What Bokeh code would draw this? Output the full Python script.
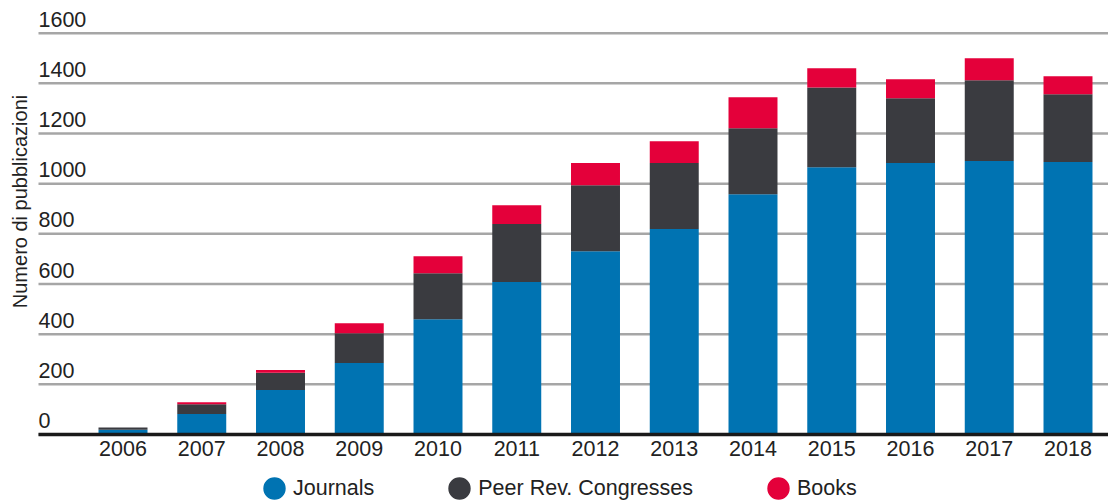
import math
from bokeh.plotting import figure
from bokeh.models import ColumnDataSource, Legend, LegendItem, Label, Range1d
from bokeh.core.properties import value
from bokeh.embed import file_html
from bokeh.resources import INLINE

# ---- data ----
years = [2006, 2007, 2008, 2009, 2010, 2011, 2012, 2013, 2014, 2015, 2016, 2017, 2018]
journals = [19, 82, 177, 285, 460, 608, 731, 819, 958, 1066, 1082, 1090, 1086]
congresses = [9, 39, 69, 119, 183, 231, 263, 263, 263, 318, 259, 322, 271]
books = [0, 8, 11, 40, 68, 75, 88, 87, 124, 76, 75, 88, 71]
series = ["Journals", "Peer Rev. Congresses", "Books"]
y_ticks = [0, 200, 400, 600, 800, 1000, 1200, 1400, 1600]
y_title = "Numero di pubblicazioni"

# ---- style / layout ----
colors = ["#0073b2", "#3a3b40", "#e4003a"]
FONT = "Liberation Sans"
TXT = "#222222"
W, H = 1108, 502
PX_YEAR = 78.75            # pixels per category step
X_START = 2006 - 122.5 / PX_YEAR
X_END = X_START + W / PX_YEAR
X_PLOT = X_START + 38 / PX_YEAR   # left edge of the plotting area
PX_UNIT = 0.25081          # pixels per publication
Y_END = 434 / PX_UNIT
Y_START = -(H - 434) / PX_UNIT

src = ColumnDataSource(dict(year=years, Journals=journals,
                            Congresses=congresses, Books=books))

p = figure(width=W, height=H, output_backend="svg", toolbar_location=None,
           x_range=Range1d(X_START, X_END), y_range=Range1d(Y_START, Y_END),
           min_border=0, x_axis_location=None, y_axis_location=None)
p.outline_line_color = None
p.background_fill_color = "white"
p.grid.visible = False

# horizontal gridlines
p.segment(x0=[X_PLOT] * len(y_ticks), x1=[X_END] * len(y_ticks),
          y0=y_ticks, y1=y_ticks, line_color="#a6a6a6", line_width=2.5)

# stacked bars
p.vbar_stack(["Journals", "Congresses", "Books"], x="year", width=0.622,
             fill_color=colors, line_color=None, source=src)

# baseline
p.segment(x0=[X_PLOT], x1=[X_END], y0=[0], y1=[0],
          line_color="#1a1a1a", line_width=3.5)

# y tick labels sitting on the gridlines
p.text(x=[X_PLOT] * len(y_ticks), y=y_ticks, text=[str(t) for t in y_ticks],
       text_font=value(FONT), text_font_size="21.5px", text_color=TXT,
       text_align="left", text_baseline="alphabetic", y_offset=-14)

# x (year) labels under the baseline
p.text(x=years, y=[0] * len(years), text=[str(y) for y in years],
       text_font=value(FONT), text_font_size="21.5px", text_color=TXT,
       text_align="center", text_baseline="alphabetic", y_offset=14)

# y title
p.add_layout(Label(x=19, y=H - 201, x_units="screen", y_units="screen",
                   text=y_title, angle=math.pi / 2, text_align="center",
                   text_baseline="middle", text_font=FONT,
                   text_font_size="20px", text_color=TXT))

# legend with round markers
items = []
for name, col in zip(series, colors):
    r = p.ellipse(x=[math.nan], y=[math.nan], width=22, height=22,
                  width_units="screen", height_units="screen",
                  fill_color=col, line_color=None)
    items.append(LegendItem(label=name, renderers=[r]))
legend = Legend(items=items, orientation="horizontal", location=(260, 0),
                glyph_width=28, glyph_height=28, label_standoff=5, spacing=71,
                padding=0, margin=0, border_line_color=None,
                background_fill_alpha=0, label_text_font=FONT,
                label_text_font_size="21.5px", label_text_color=TXT,
                label_height=28, label_text_baseline="middle")
p.add_layout(legend, "center")

open("out.html", "w").write(file_html(p, INLINE))
